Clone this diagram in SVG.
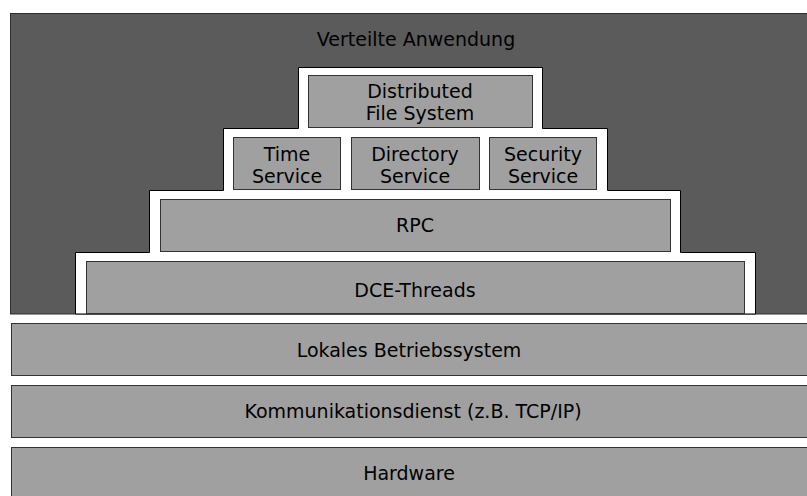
<svg xmlns="http://www.w3.org/2000/svg" width="807" height="496" viewBox="0 0 807 496">
<style>
.bg{fill:#5b5b5b;stroke:#2e2e2e;stroke-width:1}
.step{fill:#ffffff;stroke:#000000;stroke-width:1}
.box{fill:#a0a0a0;stroke:#333333;stroke-width:1}
text{font-family:"DejaVu Sans","Liberation Sans",sans-serif;font-size:19px;fill:#000000;text-anchor:middle}
</style>
<rect width="807" height="496" fill="#ffffff"/>
<g id="verteilte-anwendung">
<rect class="bg" x="10.5" y="13.5" width="800" height="300.5"/>
<text x="416" y="46">Verteilte Anwendung</text>
</g>
<g id="pyramid-frame">
<polygon class="step" points="298.5,67.5 542.5,67.5 542.5,128.5 607.5,128.5 607.5,190.5 680.5,190.5 680.5,252.5 755.5,252.5 755.5,314 75.5,314 75.5,252.5 149.5,252.5 149.5,190.5 223.5,190.5 223.5,128.5 298.5,128.5"/>
</g>
<g id="dfs">
<rect class="box" x="308.5" y="75.5" width="224" height="52"/>
<text x="420" y="98">Distributed</text>
<text x="420" y="120">File System</text>
</g>
<g id="time-service">
<rect class="box" x="233.5" y="137.5" width="107" height="52"/>
<text x="287" y="161">Time</text>
<text x="287" y="183">Service</text>
</g>
<g id="directory-service">
<rect class="box" x="351.5" y="137.5" width="128" height="52"/>
<text x="415" y="161">Directory</text>
<text x="415" y="183">Service</text>
</g>
<g id="security-service">
<rect class="box" x="489.5" y="137.5" width="107" height="52"/>
<text x="543" y="161">Security</text>
<text x="543" y="183">Service</text>
</g>
<g id="rpc">
<rect class="box" x="160.5" y="199.5" width="510" height="52"/>
<text x="415" y="232">RPC</text>
</g>
<g id="dce-threads">
<rect class="box" x="86.5" y="261.5" width="658" height="52"/>
<text x="415" y="297">DCE-Threads</text>
</g>
<g id="lokales-betriebssystem">
<rect class="box" x="11.5" y="323.5" width="800" height="52"/>
<text x="409" y="357">Lokales Betriebssystem</text>
</g>
<g id="kommunikationsdienst">
<rect class="box" x="11.5" y="385.5" width="800" height="52"/>
<text x="413" y="418">Kommunikationsdienst (z.B. TCP/IP)</text>
</g>
<g id="hardware">
<rect class="box" x="11.5" y="447.5" width="800" height="60"/>
<text x="409" y="480">Hardware</text>
</g>
<g id="connectors"></g>
</svg>
